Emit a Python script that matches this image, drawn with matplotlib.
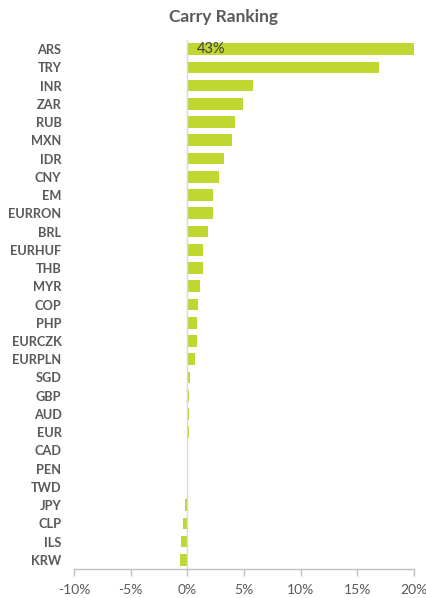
import matplotlib
matplotlib.use("Agg")
import matplotlib.pyplot as plt
from matplotlib.ticker import FuncFormatter

categories = ["ARS", "TRY", "INR", "ZAR", "RUB", "MXN", "IDR", "CNY", "EM", "EURRON",
              "BRL", "EURHUF", "THB", "MYR", "COP", "PHP", "EURCZK", "EURPLN", "SGD",
              "GBP", "AUD", "EUR", "CAD", "PEN", "TWD", "JPY", "CLP", "ILS", "KRW"]
values = [43.0, 16.9, 5.8, 4.9, 4.2, 3.95, 3.2, 2.8, 2.3, 2.27,
          1.85, 1.4, 1.35, 1.09, 0.9, 0.87, 0.85, 0.65, 0.24,
          0.18, 0.18, 0.15, 0.1, 0.0, -0.05, -0.2, -0.38, -0.6, -0.68]
xticks = [-10, -5, 0, 5, 10, 15, 20]
x_min, x_max = -10, 20
title = "Carry Ranking"
ars_label = "43%"

plt.rcParams['font.family'] = ['Lato', 'DejaVu Sans']

fig = plt.figure(figsize=(4.27, 5.98), dpi=100)
W, H = 427, 598
ax = fig.add_axes([74 / W, 1 - 569 / H, (414 - 74) / W, (569 - 40) / H])

bar_color = "#BFD730"
shown = [min(v, x_max) for v in values]
ypos = list(range(len(categories)))
ax.barh(ypos, shown, height=0.64, color=bar_color, zorder=2)
ax.set_ylim(len(categories) - 0.5, -0.5)
ax.set_xlim(x_min, x_max)

ax.axvline(0, color="#D9D9D9", lw=1.0, zorder=3)

ax.set_yticks(ypos)
ax.set_yticklabels(categories, fontsize=9.2, fontweight="bold", color="#595959")
ax.tick_params(axis="y", length=0, pad=9)

ax.set_xticks(xticks)
ax.xaxis.set_major_formatter(FuncFormatter(lambda v, p: f"{int(v)}%"))
ax.tick_params(axis="x", length=5, width=1, color="#BFBFBF", labelsize=10,
               labelcolor="#595959", pad=6)

for s in ["top", "right", "left"]:
    ax.spines[s].set_visible(False)
ax.spines["bottom"].set_color("#BFBFBF")
ax.spines["bottom"].set_linewidth(1.0)

ax.text(0.8, 0, ars_label, ha="left", va="center", fontsize=10.5, color="#404040", zorder=4)

fig.text(224 / W, 1 - 17 / H, title, ha="center", va="center", fontsize=12.5,
         fontweight="bold", color="#595959")

fig.savefig("out.png", dpi=100)
